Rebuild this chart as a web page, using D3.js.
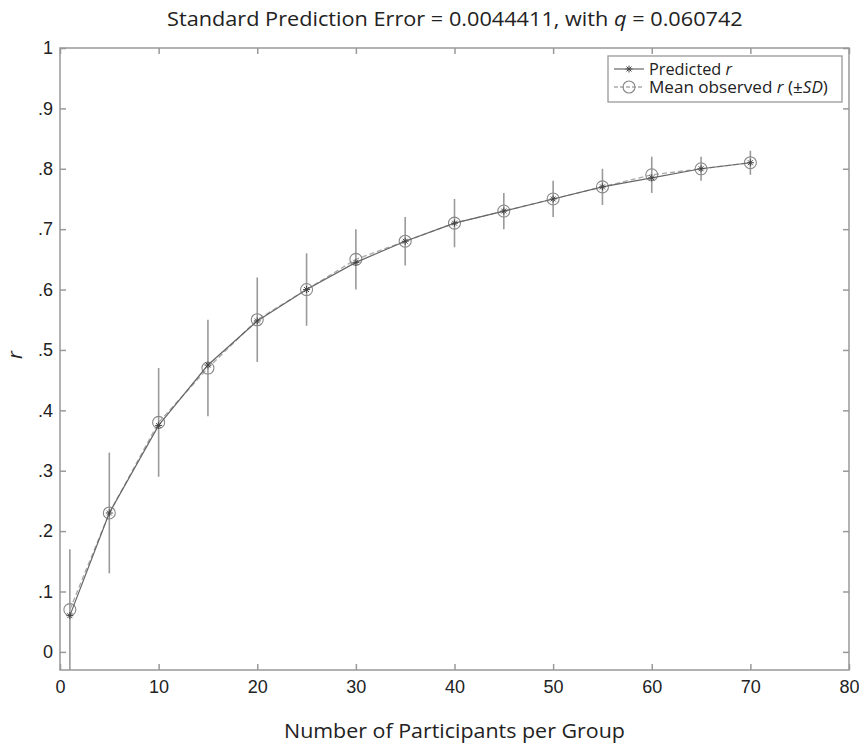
<!DOCTYPE html>
<html lang="en">
<head>
<meta charset="utf-8">
<title>Standard Prediction Error</title>
<script src="https://cdn.jsdelivr.net/npm/d3@7"></script>
<style>
    body { margin: 0; background: #fff; }
    svg { font-family: 'Open Sans', sans-serif; }
    .tick text { font-size: 18px; fill: #222; }
</style>
</head>
<body>
<script>
    // participants per group
    var groupSizes = [1, 5, 10, 15, 20, 25, 30, 35, 40, 45, 50, 55, 60, 65, 70];
    // predicted r
    var predicted = [0.06, 0.23, 0.375, 0.475, 0.548, 0.60, 0.645, 0.68, 0.71, 0.73, 0.75, 0.77, 0.785, 0.80, 0.81];
    // mean observed r and its SD
    var observed = [0.07, 0.23, 0.38, 0.47, 0.55, 0.60, 0.65, 0.68, 0.71, 0.73, 0.75, 0.77, 0.79, 0.80, 0.81];
    var observedSD = [0.10, 0.10, 0.09, 0.08, 0.07, 0.06, 0.05, 0.04, 0.04, 0.03, 0.03, 0.03, 0.03, 0.02, 0.02];

    var xTicks = [0, 10, 20, 30, 40, 50, 60, 70, 80];
    var yTicks = [0, 0.1, 0.2, 0.3, 0.4, 0.5, 0.6, 0.7, 0.8, 0.9, 1];

    var width = 859, height = 747;
    var margin = {top: 48, right: 10, bottom: 77, left: 60};
    var w = width - margin.left - margin.right,
        h = height - margin.top - margin.bottom;
    var axisColor = '#999';

    var svg = d3.select('body').append('svg')
        .attr('width', width)
        .attr('height', height);

    var g = svg.append('g')
        .attr('transform', 'translate(' + margin.left + ',' + margin.top + ')');

    var x = d3.scaleLinear().domain([0, 80]).range([0, w]);
    var y = d3.scaleLinear().domain([-0.03, 1]).range([h, 0]);

    function yFmt(d) {
        if (d === 0) return '0';
        if (d === 1) return '1';
        return '.' + Math.round(d * 10);
    }

    // fit a text horizontally so it spans [left, left + span]
    function fitText(sel, left, baseline, span) {
        var len = sel.node().getComputedTextLength();
        var k = span / len;
        sel.attr('x', 0).attr('y', 0)
            .attr('transform', 'translate(' + left + ',' + baseline + ') scale(' + k + ',1)');
    }

    // box
    g.append('rect')
        .attr('width', w).attr('height', h)
        .attr('fill', 'none')
        .attr('stroke', axisColor)
        .attr('stroke-width', 1.5);

    var xAxis = g.append('g')
        .attr('transform', 'translate(0,' + h + ')')
        .call(d3.axisBottom(x).tickValues(xTicks).tickSizeInner(-6).tickSizeOuter(0).tickPadding(10));
    var xTop = g.append('g')
        .call(d3.axisTop(x).tickValues(xTicks).tickSizeInner(-6).tickSizeOuter(0).tickFormat(''));
    var yAxis = g.append('g')
        .call(d3.axisLeft(y).tickValues(yTicks).tickSizeInner(-6).tickSizeOuter(0).tickPadding(7).tickFormat(yFmt));
    var yRight = g.append('g')
        .attr('transform', 'translate(' + w + ',0)')
        .call(d3.axisRight(y).tickValues(yTicks).tickSizeInner(-6).tickSizeOuter(0).tickFormat(''));

    [xAxis, xTop, yAxis, yRight].forEach(function(a) {
        a.select('.domain').remove();
        a.selectAll('.tick line').attr('stroke', axisColor).attr('stroke-width', 1.5);
    });

    // error bars
    g.append('g').selectAll('line')
        .data(groupSizes)
        .enter()
        .append('line')
        .attr('x1', function(d) { return x(d); })
        .attr('x2', function(d) { return x(d); })
        .attr('y1', function(d, i) { return y(observed[i] - observedSD[i]); })
        .attr('y2', function(d, i) { return y(observed[i] + observedSD[i]); })
        .attr('stroke', '#9a9a9a')
        .attr('stroke-width', 1.6);

    var line = d3.line()
        .x(function(d) { return x(d[0]); })
        .y(function(d) { return y(d[1]); });

    var obsPts = groupSizes.map(function(d, i) { return [d, observed[i]]; });
    var predPts = groupSizes.map(function(d, i) { return [d, predicted[i]]; });

    // observed: dashed light line with circles
    g.append('path')
        .datum(obsPts)
        .attr('d', line)
        .attr('fill', 'none')
        .attr('stroke', '#aaa')
        .attr('stroke-width', 1.3)
        .attr('stroke-dasharray', '5,3');
    g.append('g').selectAll('circle')
        .data(obsPts)
        .enter()
        .append('circle')
        .attr('cx', function(d) { return x(d[0]); })
        .attr('cy', function(d) { return y(d[1]); })
        .attr('r', 6)
        .attr('fill', 'none')
        .attr('stroke', '#888')
        .attr('stroke-width', 1.1);

    // predicted: solid line with asterisks
    g.append('path')
        .datum(predPts)
        .attr('d', line)
        .attr('fill', 'none')
        .attr('stroke', '#666')
        .attr('stroke-width', 1.2);

    function star(sel, s) {
        sel.append('path')
            .attr('d', 'M' + (-s) + ',0L' + s + ',0M0,' + (-s) + 'L0,' + s +
                'M' + (-s * 0.7) + ',' + (-s * 0.7) + 'L' + (s * 0.7) + ',' + (s * 0.7) +
                'M' + (-s * 0.7) + ',' + (s * 0.7) + 'L' + (s * 0.7) + ',' + (-s * 0.7))
            .attr('stroke', '#444')
            .attr('stroke-width', 1)
            .attr('fill', 'none');
    }
    g.append('g').selectAll('g')
        .data(predPts)
        .enter()
        .append('g')
        .attr('transform', function(d) { return 'translate(' + x(d[0]) + ',' + y(d[1]) + ')'; })
        .call(star, 3.5);

    // legend
    var lg = svg.append('g').attr('transform', 'translate(608,56)');
    lg.append('rect')
        .attr('width', 234).attr('height', 46)
        .attr('fill', '#fff')
        .attr('stroke', axisColor)
        .attr('stroke-width', 1.3);
    lg.append('line').attr('x1', 6).attr('x2', 36).attr('y1', 13).attr('y2', 13)
        .attr('stroke', '#666').attr('stroke-width', 1.2);
    lg.append('g').attr('transform', 'translate(21,13)').call(star, 3.5);
    lg.append('line').attr('x1', 6).attr('x2', 36).attr('y1', 31).attr('y2', 31)
        .attr('stroke', '#aaa').attr('stroke-width', 1.3).attr('stroke-dasharray', '4,2');
    lg.append('circle').attr('cx', 21).attr('cy', 31).attr('r', 6)
        .attr('fill', 'none').attr('stroke', '#888').attr('stroke-width', 1.1);

    var t1 = lg.append('text').style('font-size', '17px').attr('fill', '#222');
    t1.append('tspan').text('Predicted ');
    t1.append('tspan').style('font-style', 'italic').text('r');
    fitText(t1, 41, 19, 83);
    var t2 = lg.append('text').style('font-size', '17px').attr('fill', '#222');
    t2.append('tspan').text('Mean observed ');
    t2.append('tspan').style('font-style', 'italic').text('r');
    t2.append('tspan').text(' (\u00b1');
    t2.append('tspan').style('font-style', 'italic').text('SD');
    t2.append('tspan').text(')');
    fitText(t2, 41, 37, 179);

    // title
    var title = svg.append('text')
        .style('font-size', '20px')
        .attr('fill', '#222');
    title.append('tspan').text('Standard Prediction Error = 0.0044411, with ');
    title.append('tspan').style('font-style', 'italic').text('q');
    title.append('tspan').text(' = 0.060742');
    fitText(title, 167, 26, 576);

    // axis labels
    var xLabel = svg.append('text')
        .style('font-size', '20px')
        .attr('fill', '#222')
        .text('Number of Participants per Group');
    fitText(xLabel, 284, 738, 341);

    svg.append('text')
        .attr('transform', 'translate(22,355) rotate(-90)')
        .attr('text-anchor', 'middle')
        .style('font-size', '20px')
        .style('font-style', 'italic')
        .attr('fill', '#222')
        .text('r');
</script>
</body>
</html>
